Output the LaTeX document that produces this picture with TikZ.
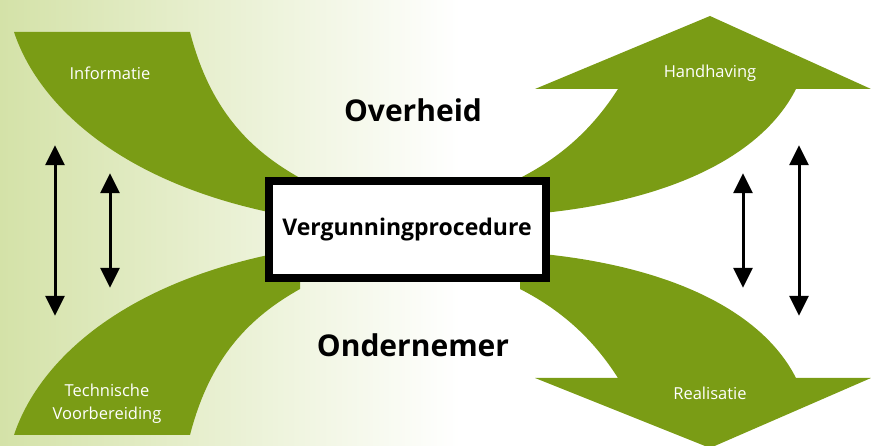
\documentclass[tikz,border=0pt]{standalone}
\usepackage{fontspec}
\setmainfont{Open Sans}
\usepackage{tikz}
\usetikzlibrary{positioning}
\usetikzlibrary{arrows.meta}
\definecolor{leaf}{RGB}{122,156,21}
\definecolor{meadow}{RGB}{212,226,168}
\pgfdeclarelayer{nodelayer}
\pgfdeclarelayer{edgelayer}
\pgfsetlayers{edgelayer,nodelayer,main}
\tikzset{nothing/.style={inner sep=0pt, minimum size=0pt}}
\tikzset{tag/.style={text=white, align=center, font=\fontsize{16.5}{23}\selectfont}}
\tikzset{title/.style={font=\fontsize{30}{34}\selectfont\bfseries}}
\tikzset{procbox/.style={draw, fill=white, line width=8pt, minimum width=277pt,
minimum height=97pt, font=\fontsize{23}{26}\selectfont\bfseries}}
\tikzset{updown/.style={line width=3pt,
{Triangle[width=19pt,length=20pt]}-{Triangle[width=19pt,length=20pt]}}}
\tikzset{leafarrow/.style={fill=leaf, draw=none}}

\begin{document}
\begin{tikzpicture}[x=1pt, y=-1pt]
	\useasboundingbox (0,0) rectangle (871,446);
	\begin{pgfonlayer}{nodelayer}
		\node [style=procbox] (0) at (407,230) {Vergunningprocedure};
		\node [style=title] (1) at (413,110) {Overheid};
		\node [style=title] (2) at (413,345) {Ondernemer};
		\node [style=tag] (3) at (110,73) {Informatie};
		\node [style=tag] (4) at (710,73) {Handhaving};
		\node [style=tag] (5) at (107,404) {Technische\\Voorbereiding};
		\node [style=tag] (6) at (710,393) {Realisatie};
		\node [style=nothing] (7) at (55,145) {};
		\node [style=nothing] (8) at (55,316) {};
		\node [style=nothing] (9) at (110,173) {};
		\node [style=nothing] (10) at (110,288) {};
		\node [style=nothing] (11) at (743,173) {};
		\node [style=nothing] (12) at (743,288) {};
		\node [style=nothing] (13) at (799,145) {};
		\node [style=nothing] (14) at (799,316) {};
	\end{pgfonlayer}
	\begin{pgfonlayer}{edgelayer}
		\fill [left color=meadow, right color=white] (0,0) rectangle (460,446);
		% bent bands on the left
		\fill [style=leafarrow] (14,32) -- (190,32) .. controls (210,110) and (250,150) .. (300,178)
			-- (300,218) .. controls (130,190) and (40,110) .. (14,32) -- cycle;
		\fill [style=leafarrow] (14,435) -- (190,435) .. controls (210,357) and (250,317) .. (300,289)
			-- (300,249) .. controls (130,277) and (40,357) .. (14,435) -- cycle;
		% arrows on the right
		\fill [style=leafarrow] (520,178) .. controls (565,155) and (595,125) .. (618,89)
			-- (535,89) -- (710,16) -- (871,89) -- (796,89)
			.. controls (760,160) and (660,205) .. (520,215) -- cycle;
		\fill [style=leafarrow] (520,289) .. controls (565,312) and (595,342) .. (618,378)
			-- (535,378) -- (710,448) -- (871,378) -- (796,378)
			.. controls (760,307) and (660,262) .. (520,252) -- cycle;
		\draw [style=updown] (7) to (8);
		\draw [style=updown] (9) to (10);
		\draw [style=updown] (11) to (12);
		\draw [style=updown] (13) to (14);
	\end{pgfonlayer}
\end{tikzpicture}
\end{document}
